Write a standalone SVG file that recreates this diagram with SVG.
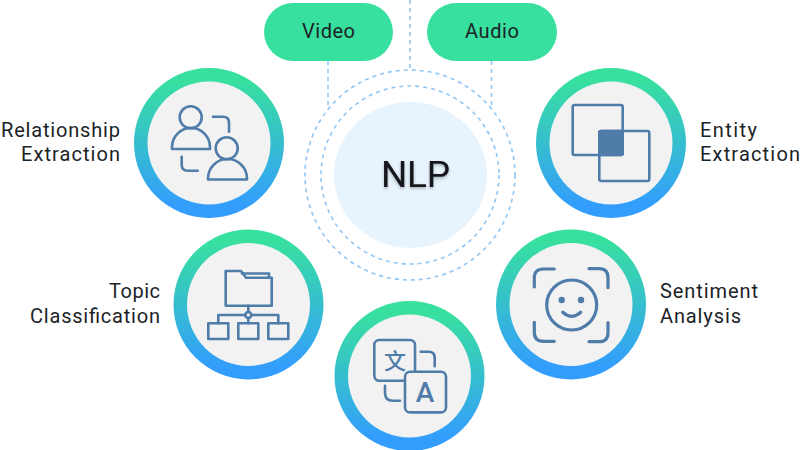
<svg xmlns="http://www.w3.org/2000/svg" width="800" height="450" viewBox="0 0 800 450">
<style>
.lbl{font-family:"Roboto","Liberation Sans",sans-serif;font-size:20px;fill:#1c2326}
.pill{fill:#38e09f}
.ring{fill:url(#rg)}
.disc{fill:#f2f2f3}
.ic{fill:none;stroke:#4f7ca8;stroke-width:2.600;stroke-linecap:round;stroke-linejoin:round}
.dash{fill:none;stroke:#8fc6f5;stroke-width:1.600;stroke-dasharray:4 4}
</style>
<defs>
<linearGradient id="rg" x1="0" y1="0" x2="0" y2="1"><stop offset="0.08" stop-color="#38e09f"/><stop offset="0.92" stop-color="#339dfd"/></linearGradient>
<filter id="sh" x="-20%" y="-20%" width="140%" height="150%"><feDropShadow dx="0" dy="1.500" stdDeviation="1.500" flood-color="#000" flood-opacity=".3"/></filter>
</defs>
<rect width="800" height="450" fill="#fff"/>
<g id="connectors">
<path class="dash" d="M328 61V107M491.500 61V107M410 0V70"/>
<circle class="dash" cx="410" cy="175" r="105"/>
<circle class="dash" cx="410" cy="175" r="89"/>
</g>
<g id="nlp">
<ellipse cx="410.500" cy="175" rx="76.500" ry="73" fill="#e7f3fd"/>
<text x="381" y="186.500" font-family="Roboto,'Liberation Sans',sans-serif" font-size="37" fill="#14181b" textLength="69" lengthAdjust="spacing" filter="url(#sh)">NLP</text>
</g>
<g id="video">
<rect class="pill" x="264" y="3" width="129" height="58" rx="29"/>
<text class="lbl" x="302" y="38" textLength="53" lengthAdjust="spacing">Video</text>
</g>
<g id="audio">
<rect class="pill" x="427" y="3" width="130" height="58" rx="29"/>
<text class="lbl" x="465" y="38" textLength="54" lengthAdjust="spacing">Audio</text>
</g>
<g id="relationship">
<circle class="ring" cx="209" cy="143" r="75"/><circle class="disc" cx="209" cy="143" r="61.500"/>
<g class="ic">
<circle cx="190.700" cy="117.300" r="11"/>
<path d="M172 149h38v-2a19 19 0 0 0-38 0z"/>
<circle cx="226.700" cy="148.300" r="11"/>
<path d="M208 179.500h39v-1a19.500 19.500 0 0 0-39 0z"/>
<path d="M213 116.700h10q6 0 6 6v9M181.700 156.700v8q0 6 6 6h10"/>
</g>
<text class="lbl" x="120" y="137" text-anchor="end" textLength="119" lengthAdjust="spacing">Relationship</text>
<text class="lbl" x="120" y="161" text-anchor="end" textLength="99" lengthAdjust="spacing">Extraction</text>
</g>
<g id="entity">
<circle class="ring" cx="611" cy="143" r="75"/><circle class="disc" cx="611" cy="143" r="61.500"/>
<g class="ic">
<rect x="572.700" y="105" width="50" height="50" rx="2"/>
<rect x="599.300" y="131" width="50" height="50" rx="2"/>
<rect x="599.300" y="131" width="23.400" height="24" rx="2" fill="#4f7ca8"/>
</g>
<text class="lbl" x="700" y="137" textLength="57" lengthAdjust="spacing">Entity</text>
<text class="lbl" x="700" y="161" textLength="100" lengthAdjust="spacing">Extraction</text>
</g>
<g id="topic">
<circle class="ring" cx="248.500" cy="304.500" r="75"/><circle class="disc" cx="248.500" cy="304.500" r="61.500"/>
<g class="ic" stroke-linecap="butt">
<path d="M225.700 271H241L246 277.700H271.700V305.700H225.700Z"/>
<path d="M242 273.500H269V277.700"/>
<path d="M248.300 305.700V312M248.300 318V323.300M218.300 323.300V315H245.300M251.300 315H278.300V323.300"/>
<circle cx="248.300" cy="315" r="3"/>
<rect x="208.300" y="323.300" width="20" height="15.700"/>
<rect x="238.300" y="323.300" width="20" height="15.700"/>
<rect x="268.300" y="323.300" width="20" height="15.700"/>
</g>
<text class="lbl" x="160" y="298" text-anchor="end" textLength="51" lengthAdjust="spacing">Topic</text>
<text class="lbl" x="160" y="323" text-anchor="end" textLength="130" lengthAdjust="spacing">Classification</text>
</g>
<g id="sentiment">
<circle class="ring" cx="571" cy="304.500" r="75"/><circle class="disc" cx="571" cy="304.500" r="61.500"/>
<g class="ic" style="stroke-width:3.200">
<circle cx="571.700" cy="305" r="25"/>
<path d="M534.300 287v-9q0-9 9-9h11M589 268.700h10q9 0 9 9v10M534.300 322.300v10q0 9 9 9h11M589 341.700h10q9 0 9-9v-10M562.700 312.300q9 8 18 0"/>
</g>
<circle cx="561.700" cy="300" r="3.200" fill="#4f7ca8"/><circle cx="581" cy="300" r="3.200" fill="#4f7ca8"/>
<text class="lbl" x="660" y="298" textLength="98" lengthAdjust="spacing">Sentiment</text>
<text class="lbl" x="660" y="323" textLength="81" lengthAdjust="spacing">Analysis</text>
</g>
<g id="translation">
<circle class="ring" cx="409.500" cy="376" r="75"/><circle class="disc" cx="409.500" cy="376" r="61.500"/>
<g class="ic">
<rect x="374.300" y="340" width="40.700" height="40.700" rx="5"/>
<rect x="405" y="371.700" width="41" height="40.700" rx="5" fill="#f2f2f3"/>
<path d="M420.700 351.700h8q6 0 6 6v8.500M385 385.700v7q0 8 8 8h7"/>
</g>
<text x="395" y="368.500" text-anchor="middle" font-family="'Noto Sans CJK SC',sans-serif" font-size="22" font-weight="500" fill="#4f7ca8">文</text>
<text x="425" y="401.500" text-anchor="middle" font-family="Roboto,'Liberation Sans',sans-serif" font-size="28" font-weight="500" fill="#4f7ca8">A</text>
</g>
</svg>
